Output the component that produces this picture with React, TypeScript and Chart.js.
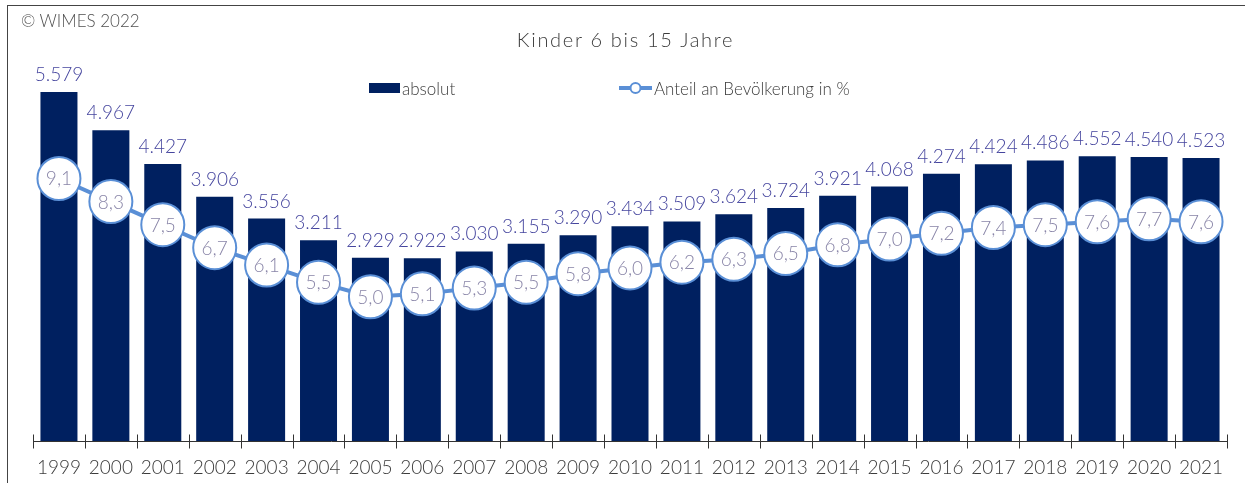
import React, { useEffect, useRef } from "react";
import { Chart, registerables } from "chart.js";

Chart.register(...registerables);

const years = ["1999","2000","2001","2002","2003","2004","2005","2006","2007","2008","2009","2010","2011","2012","2013","2014","2015","2016","2017","2018","2019","2020","2021"];
const absolut = [5579,4967,4427,3906,3556,3211,2929,2922,3030,3155,3290,3434,3509,3624,3724,3921,4068,4274,4424,4486,4552,4540,4523];
const anteil = [9.1,8.3,7.5,6.7,6.1,5.5,5.0,5.1,5.3,5.5,5.8,6.0,6.2,6.3,6.5,6.8,7.0,7.2,7.4,7.5,7.6,7.7,7.6];
const legendLabels = ["absolut", "Anteil an Bevölkerung in %"];
const titleText = "Kinder 6 bis 15 Jahre";
const copyrightText = "© WIMES 2022";

const FONT = "Lato, 'Open Sans', sans-serif";
const BAR_COLOR = "#002060";
const LINE_COLOR = "#5A8FD6";
const LABEL_COLOR = "#45459E";
const CIRCLE_TEXT = "#8985A8";
const TEXT_DARK = "#3C3C3C";

const fmtAbs = (v: number) => String(v).replace(/\B(?=(\d{3})+(?!\d))/g, ".");
const fmtPct = (v: number) => v.toFixed(1).replace(".", ",");

const overlayPlugin = {
  id: "overlay",
  afterDatasetsDraw(chart: any) {
    const ctx = chart.ctx as CanvasRenderingContext2D;
    const area = chart.chartArea;
    ctx.save();
    // axis line and ticks
    ctx.strokeStyle = "#333";
    ctx.lineWidth = 1;
    const y0 = Math.round(area.bottom) + 0.5;
    ctx.beginPath();
    ctx.moveTo(area.left, y0);
    ctx.lineTo(area.right, y0);
    const n = years.length;
    const step = (area.right - area.left) / n;
    for (let i = 0; i <= n; i++) {
      const px = Math.round(area.left + i * step) + 0.5;
      ctx.moveTo(px, y0 - 7);
      ctx.lineTo(px, y0 + 7);
    }
    ctx.stroke();

    // bar labels
    ctx.font = `300 19px ${FONT}`;
    ctx.textAlign = "center";
    ctx.textBaseline = "alphabetic";
    ctx.fillStyle = LABEL_COLOR;
    const barMeta = chart.getDatasetMeta(1);
    barMeta.data.forEach((el: any, i: number) => {
      ctx.fillText(fmtAbs(absolut[i]), el.x, el.y - 11);
    });
    // circle labels
    ctx.fillStyle = CIRCLE_TEXT;
    const lineMeta = chart.getDatasetMeta(0);
    lineMeta.data.forEach((pt: any, i: number) => {
      ctx.fillText(fmtPct(anteil[i]), pt.x, pt.y + 7);
    });

    // legend
    ctx.font = `300 17px ${FONT}`;
    ctx.textAlign = "left";
    ctx.fillStyle = BAR_COLOR;
    ctx.fillRect(369, 83, 31, 10);
    ctx.fillStyle = TEXT_DARK;
    ctx.fillText(legendLabels[0], 402, 95);
    ctx.strokeStyle = LINE_COLOR;
    ctx.lineWidth = 4;
    ctx.beginPath();
    ctx.moveTo(619, 88);
    ctx.lineTo(652, 88);
    ctx.stroke();
    ctx.beginPath();
    ctx.arc(635.5, 88, 5, 0, Math.PI * 2);
    ctx.fillStyle = "#fff";
    ctx.fill();
    ctx.lineWidth = 2;
    ctx.stroke();
    ctx.fillStyle = TEXT_DARK;
    ctx.fillText(legendLabels[1], 654, 95);
    ctx.restore();
  },
};

export default function App() {
  const ref = useRef<HTMLCanvasElement>(null);
  useEffect(() => {
    if (!ref.current) return;
    const chart = new Chart(ref.current, {
      type: "bar",
      data: {
        labels: years,
        datasets: [
          {
            type: "line",
            label: legendLabels[1],
            data: anteil,
            yAxisID: "y1",
            borderColor: LINE_COLOR,
            borderWidth: 4,
            pointRadius: 21.5,
            pointBorderWidth: 2,
            pointBackgroundColor: "#fff",
            pointBorderColor: LINE_COLOR,
            tension: 0,
            clip: false,
            order: 0,
          } as any,
          {
            type: "bar",
            label: legendLabels[0],
            data: absolut,
            yAxisID: "y",
            backgroundColor: BAR_COLOR,
            borderWidth: 0,
            categoryPercentage: 1,
            barPercentage: 0.713,
            order: 1,
          } as any,
        ],
      },
      options: {
        animation: false,
        responsive: false,
        maintainAspectRatio: false,
        layout: { autoPadding: false, padding: { left: 33, right: 18, top: 10, bottom: 0 } },
        plugins: { legend: { display: false }, title: { display: false }, tooltip: { enabled: false } },
        scales: {
          x: {
            type: "category",
            offset: true,
            grid: { display: false, drawTicks: false },
            border: { display: false },
            ticks: { font: { family: FONT, size: 19, weight: "300" }, color: TEXT_DARK, padding: 15, maxRotation: 0, autoSkip: false },
            afterFit: (s: any) => { s.height = 42; },
          },
          y: { display: false, min: 0, max: 6890 },
          y1: { display: false, min: 0, max: 14.94 },
        },
      },
      plugins: [overlayPlugin],
    });
    return () => chart.destroy();
  }, []);

  return (
    <div style={{ position: "fixed", left: 0, top: 0, width: 1245, height: 483, overflow: "hidden", background: "#fff" }}>
      <div style={{ position: "absolute", left: 7, top: 5, width: 1300, height: 700, border: "1px solid #444" }} />
      <canvas ref={ref} width={1245} height={483} style={{ position: "absolute", left: 0, top: 0, width: 1245, height: 483 }} />
      <div style={{ position: "absolute", left: 21, top: 10, fontFamily: FONT, fontWeight: 300, fontSize: 17, color: "#505050", lineHeight: "22px", whiteSpace: "nowrap" }}>{copyrightText}</div>
      <div style={{ position: "absolute", left: 0, width: 1251, top: 26, textAlign: "center", fontFamily: FONT, fontWeight: 300, fontSize: 20, letterSpacing: 1.7, color: TEXT_DARK, lineHeight: "26px", whiteSpace: "nowrap" }}>{titleText}</div>
    </div>
  );
}
